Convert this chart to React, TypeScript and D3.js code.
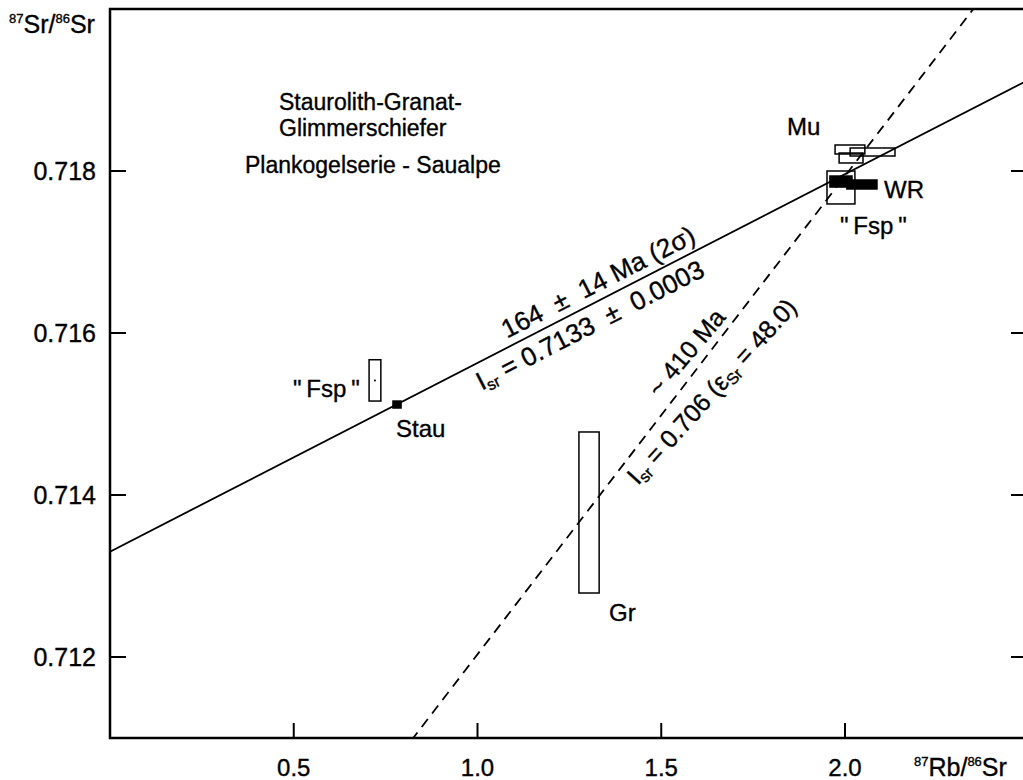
import React from 'react';
import * as d3 from 'd3';

const WIDTH = 1023;
const HEIGHT = 780;

const X_DOMAIN: [number, number] = [0, 2];
const Y_DOMAIN: [number, number] = [0.711, 0.72];
const X_MAX = 2.5; // right frame edge, falls outside the picture
const X_TICKS = [0.5, 1.0, 1.5, 2.0];
const Y_TICKS = [0.712, 0.714, 0.716, 0.718];

// 164 Ma isochron (solid) and ~410 Ma reference line (dashed)
const ISOCHRON: [number, number][] = [
  [0, 0.7133],
  [2.6, 0.71936],
];
const REFERENCE: [number, number][] = [
  [0.82, 0.71097],
  [2.4, 0.7203],
];

interface Sample {
  name: string;
  x0: number;
  x1: number;
  y0: number;
  y1: number;
  filled: boolean;
}

// error boxes
const SAMPLES: Sample[] = [
  { name: 'Fsp', x0: 0.705, x1: 0.737, y0: 0.71516, y1: 0.71567, filled: false },
  { name: 'Stau', x0: 0.77, x1: 0.792, y0: 0.715074, y1: 0.71516, filled: true },
  { name: 'Gr', x0: 1.276, x1: 1.331, y0: 0.71279, y1: 0.714778, filled: false },
  { name: 'Mu', x0: 1.973, x1: 2.054, y0: 0.71821, y1: 0.718321, filled: false },
  { name: 'Mu', x0: 1.984, x1: 2.049, y0: 0.718099, y1: 0.718222, filled: false },
  { name: 'Mu', x0: 2.014, x1: 2.136, y0: 0.718185, y1: 0.718284, filled: false },
  { name: 'Fsp', x0: 1.951, x1: 2.027, y0: 0.717593, y1: 0.718, filled: false },
  { name: 'WR', x0: 1.959, x1: 2.019, y0: 0.717802, y1: 0.717938, filled: true },
  { name: 'WR', x0: 2.005, x1: 2.087, y0: 0.717778, y1: 0.717889, filled: true },
];

const FONT = '"Liberation Sans", Arial, Helvetica, sans-serif';

const App = () => {
  const x = d3.scaleLinear().domain(X_DOMAIN).range([110, 845]);
  const y = d3.scaleLinear().domain(Y_DOMAIN).range([738, 9]);

  const line = d3
    .line<[number, number]>()
    .x((d) => x(d[0]))
    .y((d) => y(d[1]));

  const left = x(0);
  const right = x(X_MAX);
  const top = y(Y_DOMAIN[1]);
  const bottom = y(Y_DOMAIN[0]);

  // angle of the lines on screen
  const angle = (pts: [number, number][]) =>
    (Math.atan2(y(pts[1][1]) - y(pts[0][1]), x(pts[1][0]) - x(pts[0][0])) * 180) / Math.PI;
  const isoAngle = angle(ISOCHRON);

  return (
    <div style={{ position: 'absolute', left: 0, top: 0 }}>
      <svg width={WIDTH} height={HEIGHT} style={{ display: 'block', background: '#fff' }} fontFamily={FONT}>
        <defs>
          <clipPath id="plot">
            <rect x={left} y={top} width={right - left} height={bottom - top} />
          </clipPath>
        </defs>

        <g clipPath="url(#plot)">
          <path d={line(ISOCHRON) as string} fill="none" stroke="#000" strokeWidth={1.8} />
          <path
            d={line(REFERENCE) as string}
            fill="none"
            stroke="#000"
            strokeWidth={1.8}
            strokeDasharray="10 7"
          />

          {SAMPLES.map((s, i) => (
            <rect
              key={i}
              x={x(s.x0)}
              y={y(s.y1)}
              width={x(s.x1) - x(s.x0)}
              height={y(s.y0) - y(s.y1)}
              fill={s.filled ? '#000' : '#fff'}
              fillOpacity={s.filled ? 1 : 0}
              stroke="#000"
              strokeWidth={1.5}
            />
          ))}
          {/* centre dot of the low-Rb feldspar */}
          <circle cx={x((SAMPLES[0].x0 + SAMPLES[0].x1) / 2)} cy={y((SAMPLES[0].y0 + SAMPLES[0].y1) / 2)} r={1} fill="#000" />
        </g>

        {/* frame */}
        <rect
          x={left}
          y={top}
          width={right - left}
          height={bottom - top}
          fill="none"
          stroke="#000"
          strokeWidth={2.5}
        />

        <g stroke="#000" strokeWidth={0.35}>
          {/* y ticks, left and right */}
          {Y_TICKS.map((t) => (
            <g key={t}>
              <line x1={left} x2={left + 16} y1={y(t)} y2={y(t)} stroke="#000" strokeWidth={2} />
              <line x1={WIDTH - 12} x2={right} y1={y(t)} y2={y(t)} stroke="#000" strokeWidth={2} />
              <text x={96} y={y(t) + 9} textAnchor="end" fontSize={25}>
                {t.toFixed(3)}
              </text>
            </g>
          ))}

          {/* x ticks */}
          {X_TICKS.map((t) => (
            <g key={t}>
              <line x1={x(t)} x2={x(t)} y1={bottom} y2={bottom - 15} stroke="#000" strokeWidth={2} />
              <text x={x(t)} y={776} textAnchor="middle" fontSize={24}>
                {t.toFixed(1)}
              </text>
            </g>
          ))}

          {/* axis titles */}
          <text x={9} y={33} fontSize={25}>
            <tspan fontSize={13} dy={-10}>87</tspan>
            <tspan dy={10}>Sr/</tspan>
            <tspan fontSize={13} dy={-10}>86</tspan>
            <tspan dy={10}>Sr</tspan>
          </text>
          <text x={914} y={776} fontSize={25}>
            <tspan fontSize={13} dy={-10}>87</tspan>
            <tspan dy={10}>Rb/</tspan>
            <tspan fontSize={13} dy={-10}>86</tspan>
            <tspan dy={10}>Sr</tspan>
          </text>

          {/* description */}
          <text x={279} y={110} fontSize={23}>Staurolith-Granat-</text>
          <text x={279} y={136} fontSize={23}>Glimmerschiefer</text>
          <text x={245} y={173} fontSize={23}>Plankogelserie - Saualpe</text>

          {/* sample labels */}
          <text x={787} y={135} fontSize={24}>Mu</text>
          <text x={884} y={198} fontSize={24}>WR</text>
          <text x={840} y={234} fontSize={24}>{'"\u2009Fsp\u2009"'}</text>
          <text x={293} y={397} fontSize={24}>{'"\u2009Fsp\u2009"'}</text>
          <text x={396} y={437} fontSize={24}>Stau</text>
          <text x={609} y={621} fontSize={24}>Gr</text>

          {/* isochron labels */}
          <text transform={`translate(602,290) rotate(${isoAngle})`} textAnchor="middle" fontSize={26}>
            {'164\u00a0\u00a0±\u00a0\u00a014 Ma (2σ)'}
          </text>
          <text transform={`translate(594,333) rotate(${isoAngle})`} textAnchor="middle" fontSize={26}>
            <tspan>I</tspan>
            <tspan fontSize={16} dy={4}>sr</tspan>
            <tspan dy={-4}>{'\u00a0=\u00a00.7133\u00a0\u00a0±\u00a0\u00a00.0003'}</tspan>
          </text>

          {/* reference line labels */}
          <text transform="translate(693,358) rotate(-50)" textAnchor="middle" fontSize={25}>
            {'~ 410 Ma'}
          </text>
          <text transform="translate(638,486) rotate(-48)" fontSize={25}>
            <tspan>I</tspan>
            <tspan fontSize={16} dy={4}>sr</tspan>
            <tspan dy={-4}>{'\u00a0=\u00a00.706 (ε'}</tspan>
            <tspan fontSize={16} dy={4}>Sr</tspan>
            <tspan dy={-4}>{'\u00a0=\u00a048.0)'}</tspan>
          </text>
        </g>
      </svg>
    </div>
  );
};

export default App;
